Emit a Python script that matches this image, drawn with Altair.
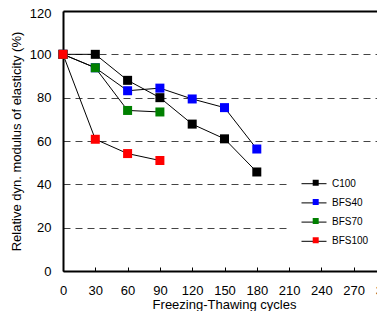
import altair as alt
import pandas as pd

cycles = [0, 30, 60, 90, 120, 150, 180]
series_names = ["C100", "BFS40", "BFS70", "BFS100"]
series_colors = ["#000000", "#0000FF", "#008000", "#FF0000"]
c100 = [100, 100, 88, 80, 67.8, 61, 45.7]
bfs40 = [100, 93.8, 83.2, 84.4, 79.4, 75.4, 56.3]
bfs70 = [100, 93.8, 74.1, 73.4]
bfs100 = [100, 60.8, 54.2, 51]
x_ticks = [0, 30, 60, 90, 120, 150, 180, 210, 240, 270, 300]
y_ticks = [0, 20, 40, 60, 80, 100, 120]

rows = []
for name, vals in zip(series_names, [c100, bfs40, bfs70, bfs100]):
    for c, v in zip(cycles, vals):
        rows.append({"Cycles": c, "Value": v, "Series": name, "Mix": name})
df = pd.DataFrame(rows)

FONT = "Liberation Sans"
W, H = 314, 260      # visible plot box (page is only 385 px wide)
X_RANGE = 323        # the axis continues past the right edge, as in the original

y_axis = alt.Axis(values=y_ticks, title="Relative dyn. modulus of elasticity (%)",
                  ticks=False, grid=True, gridDash=[7, 5], gridColor="#444444",
                  gridWidth=1, domainColor="black", domainWidth=2,
                  labelPadding=12, titlePadding=6,
                  labelOffset={"condition": {"test": "datum.value >= 120", "value": 2},
                               "value": 0})

base = alt.Chart(df)

lines = base.mark_line(strokeWidth=1).encode(
    x=alt.X("Cycles:Q",
            scale=alt.Scale(domain=[0, 300], nice=False, range=[0, X_RANGE]),
            axis=alt.Axis(values=x_ticks, title="Freezing-Thawing cycles", ticks=False,
                          grid=False, domainColor="black", domainWidth=2,
                          labelPadding=13, labelOverlap=False, labelBound=False,
                          labelFlush=False, titleX=161,
                          titleBaseline="alphabetic", titleY=37)),
    y=alt.Y("Value:Q", scale=alt.Scale(domain=[0, 120], nice=False), axis=y_axis),
    stroke=alt.Stroke("Mix:N", sort=series_names,
                      scale=alt.Scale(range=["#000000"] * 4),
                      legend=alt.Legend(orient="none", legendX=227, legendY=155.2,
                                        title=None, symbolType="stroke", symbolSize=625,
                                        symbolStrokeWidth=1, labelFontSize=10,
                                        labelFont=FONT, labelColor="black",
                                        clipHeight=13, rowPadding=6.2, padding=11,
                                        fillColor="white", zindex=1, labelOffset=5,
                                        labelExpr="datum.label + '     '")),
)

points = base.mark_square(size=81, opacity=1, strokeWidth=0).encode(
    x=alt.X("Cycles:Q",
            axis=alt.Axis(orient="top", offset=-H, values=x_ticks, labels=False,
                          domain=False, ticks=True, tickSize=4, tickColor="black",
                          tickWidth=1, grid=False, title=None)),
    y=alt.Y("Value:Q", axis=y_axis),
    fill=alt.Fill("Series:N",
                  scale=alt.Scale(domain=series_names, range=series_colors),
                  legend=alt.Legend(orient="none", legendX=247.7, legendY=165.2,
                                    title=None, symbolType="square", symbolSize=36,
                                    symbolStrokeWidth=0, labelExpr="''",
                                    labelFontSize=10, clipHeight=13, rowPadding=6.2,
                                    padding=0, zindex=2)),
)

frame = base.mark_square(opacity=0).encode(
    x=alt.X("Cycles:Q",
            axis=alt.Axis(orient="top", offset=0, labels=False, ticks=False,
                          domain=True, domainColor="black", domainWidth=2,
                          grid=False, title=None)),
    y=alt.Y("Value:Q", axis=y_axis),
)

chart = alt.layer(lines, points, frame).resolve_axis(x="independent").properties(
    width=W, height=H,
    autosize=alt.AutoSizeParams(type="none"),
    padding={"left": 55, "top": 3, "right": 0, "bottom": 40},
).configure_axis(
    labelFont=FONT, titleFont=FONT, labelFontSize=13, titleFontSize=13,
    titleFontWeight="normal", labelColor="black", titleColor="black",
).configure_view(strokeWidth=0, stroke=None)

chart.save("out.html", embed_options={"renderer": "svg", "actions": False})
